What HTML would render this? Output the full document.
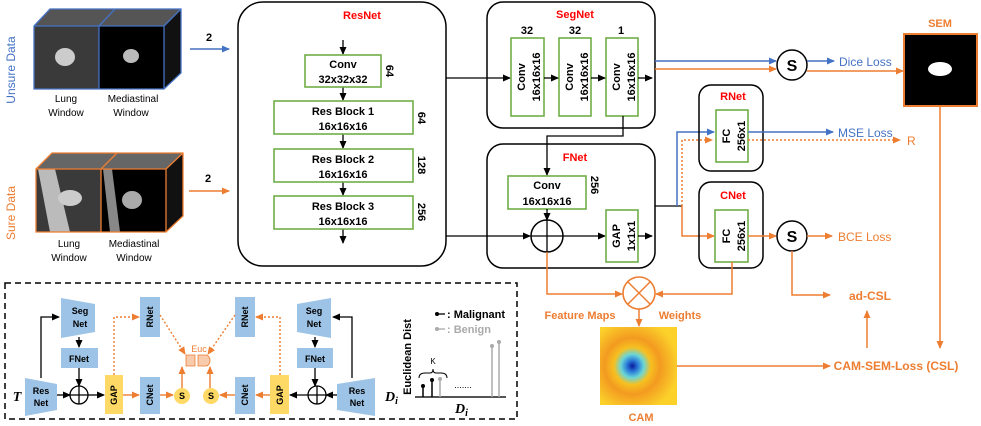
<!DOCTYPE html>
<html><head><meta charset="utf-8"><style>
html,body{margin:0;padding:0;background:#fff;}
svg{display:block;font-family:"Liberation Sans",sans-serif;font-weight:bold;}
</style></head><body>
<svg width="981" height="426" viewBox="0 0 981 426" xmlns="http://www.w3.org/2000/svg">
<defs>
<marker id="ak" markerWidth="8" markerHeight="8" refX="7" refY="4" orient="auto" markerUnits="userSpaceOnUse"><path d="M0,0.5 L8,4 L0,7.5z" fill="#000"/></marker>
<marker id="ab" markerWidth="8" markerHeight="8" refX="7" refY="4" orient="auto" markerUnits="userSpaceOnUse"><path d="M0,0.5 L8,4 L0,7.5z" fill="#4472c4"/></marker>
<marker id="ao" markerWidth="8" markerHeight="8" refX="7" refY="4" orient="auto" markerUnits="userSpaceOnUse"><path d="M0,0.5 L8,4 L0,7.5z" fill="#ed7d31"/></marker>
<radialGradient id="cam" cx="0.42" cy="0.5" r="0.6">
<stop offset="0" stop-color="#0a1a9a"/><stop offset="0.12" stop-color="#2a7ad8"/><stop offset="0.25" stop-color="#6ad6d6"/><stop offset="0.4" stop-color="#f7c020"/><stop offset="0.6" stop-color="#f39a20"/><stop offset="1" stop-color="#fbd12a"/></radialGradient>
</defs>

<!-- Input cubes -->
<text transform="translate(15,70) rotate(-90)" text-anchor="middle" font-size="12" fill="#4472c4" font-weight="normal">Unsure Data</text>
<g>
<polygon points="34,26 50,9 181,9 164,26" fill="#555"/>
<polygon points="164,26 181,9 181,73 164,89" fill="#111"/>
<rect x="34" y="26" width="65" height="63" fill="#3a3a3a"/>
<ellipse cx="65" cy="57" rx="10" ry="9" fill="#ccc"/>
<rect x="99" y="26" width="65" height="63" fill="#000"/>
<ellipse cx="131" cy="56" rx="8" ry="7" fill="#bbb"/>
<path d="M34,26 L50,9 L181,9 L181,73 L164,89 L34,89z M34,26 H164 V89 M164,26 L181,9 M99,26 V89 M99,26 L115,9" fill="none" stroke="#4472c4" stroke-width="1.3"/>
</g>
<text x="66" y="102" text-anchor="middle" font-size="10" font-weight="normal">Lung</text>
<text x="66" y="116" text-anchor="middle" font-size="10" font-weight="normal">Window</text>
<text x="133" y="102" text-anchor="middle" font-size="10" font-weight="normal">Mediastinal</text>
<text x="131" y="116" text-anchor="middle" font-size="10" font-weight="normal">Window</text>

<text transform="translate(15,213) rotate(-90)" text-anchor="middle" font-size="12" fill="#ed7d31" font-weight="normal">Sure Data</text>
<g>
<polygon points="36,169 52,153 183,153 166,169" fill="#666"/>
<polygon points="166,169 183,153 183,216 166,232" fill="#111"/>
<rect x="36" y="169" width="65" height="63" fill="#3a3a3a"/>
<polygon points="38,169 55,169 70,232 50,232" fill="#bbb"/>
<ellipse cx="70" cy="198" rx="12" ry="8" fill="#ccc"/>
<rect x="101" y="169" width="65" height="63" fill="#000"/>
<polygon points="103,169 112,169 120,232 110,232" fill="#888"/>
<ellipse cx="132" cy="200" rx="10" ry="9" fill="#aaa"/>
<path d="M36,169 L52,153 L183,153 L183,216 L166,232 L36,232z M36,169 H166 V232 M166,169 L183,153 M101,169 V232 M101,169 L117,153" fill="none" stroke="#ed7d31" stroke-width="1.3"/>
</g>
<text x="69" y="247" text-anchor="middle" font-size="10" font-weight="normal">Lung</text>
<text x="69" y="261" text-anchor="middle" font-size="10" font-weight="normal">Window</text>
<text x="134" y="247" text-anchor="middle" font-size="10" font-weight="normal">Mediastinal</text>
<text x="134" y="261" text-anchor="middle" font-size="10" font-weight="normal">Window</text>

<text x="209" y="41" text-anchor="middle" font-size="11">2</text>
<line x1="190" y1="49" x2="229" y2="49" stroke="#4472c4" stroke-width="1.5" marker-end="url(#ab)"/>
<text x="208" y="182" text-anchor="middle" font-size="11">2</text>
<line x1="189" y1="191" x2="229" y2="191" stroke="#ed7d31" stroke-width="1.5" marker-end="url(#ao)"/>

<!-- ResNet -->
<rect x="238" y="2" width="208" height="264" rx="25" fill="none" stroke="#000" stroke-width="1.5"/>
<text x="362" y="19" text-anchor="middle" font-size="11" fill="#ff0000">ResNet</text>
<g stroke="#000" stroke-width="1.3">
<line x1="343" y1="40" x2="343" y2="54" marker-end="url(#ak)"/>
<line x1="343" y1="87" x2="343" y2="100" marker-end="url(#ak)"/>
<line x1="343" y1="134" x2="343" y2="148" marker-end="url(#ak)"/>
<line x1="343" y1="182" x2="343" y2="195" marker-end="url(#ak)"/>
<line x1="343" y1="229" x2="343" y2="243" marker-end="url(#ak)"/>
</g>
<g fill="#fff" stroke="#70ad47" stroke-width="1.6">
<rect x="305" y="55" width="76" height="32"/>
<rect x="274" y="101" width="139" height="33"/>
<rect x="274" y="149" width="139" height="33"/>
<rect x="274" y="196" width="139" height="33"/>
</g>
<g font-size="11" text-anchor="middle">
<text x="343" y="68">Conv</text><text x="343" y="83">32x32x32</text>
<text x="343" y="115">Res Block 1</text><text x="343" y="130">16x16x16</text>
<text x="343" y="163">Res Block 2</text><text x="343" y="178">16x16x16</text>
<text x="343" y="210">Res Block 3</text><text x="343" y="225">16x16x16</text>
<text transform="translate(386,71) rotate(90)">64</text>
<text transform="translate(418,118) rotate(90)">64</text>
<text transform="translate(418,165) rotate(90)">128</text>
<text transform="translate(418,212) rotate(90)">256</text>
</g>
<line x1="446" y1="78" x2="510" y2="78" stroke="#000" stroke-width="1.3" marker-end="url(#ak)"/>
<line x1="446" y1="236" x2="530" y2="236" stroke="#000" stroke-width="1.3" marker-end="url(#ak)"/>

<!-- SegNet -->
<rect x="487" y="2" width="168" height="126" rx="16" fill="none" stroke="#000" stroke-width="1.5"/>
<text x="575" y="18" text-anchor="middle" font-size="11" fill="#ff0000">SegNet</text>
<g font-size="11" text-anchor="middle"><text x="527" y="34">32</text><text x="575" y="34">32</text><text x="621" y="34">1</text></g>
<g fill="#fff" stroke="#70ad47" stroke-width="1.6">
<rect x="511" y="38" width="33" height="78"/><rect x="559" y="38" width="32" height="78"/><rect x="606" y="38" width="32" height="78"/>
</g>
<g font-size="11" text-anchor="middle">
<text transform="translate(527,77) rotate(-90)"><tspan x="0" dy="-2">Conv</tspan><tspan x="0" dy="15">16x16x16</tspan></text>
<text transform="translate(575,77) rotate(-90)"><tspan x="0" dy="-2">Conv</tspan><tspan x="0" dy="15">16x16x16</tspan></text>
<text transform="translate(622,77) rotate(-90)"><tspan x="0" dy="-2">Conv</tspan><tspan x="0" dy="15">16x16x16</tspan></text>
</g>
<g stroke="#000" stroke-width="1.3">
<line x1="544" y1="78" x2="558" y2="78" marker-end="url(#ak)"/>
<line x1="591" y1="78" x2="605" y2="78" marker-end="url(#ak)"/>
<line x1="638" y1="78" x2="652" y2="78" marker-end="url(#ak)"/>
<polyline points="623,116 623,136 547,136 547,175" fill="none" marker-end="url(#ak)"/>
</g>
<line x1="655" y1="61" x2="776" y2="61" stroke="#4472c4" stroke-width="1.5" marker-end="url(#ab)"/>
<line x1="655" y1="69" x2="776" y2="69" stroke="#ed7d31" stroke-width="1.5" marker-end="url(#ao)"/>
<circle cx="792" cy="65" r="15" fill="#fff" stroke="#000" stroke-width="1.5"/>
<text x="792" y="71" text-anchor="middle" font-size="16">S</text>
<line x1="807" y1="61" x2="834" y2="61" stroke="#4472c4" stroke-width="1.5" marker-end="url(#ab)"/>
<text x="839" y="66" font-size="12" fill="#4472c4" font-weight="normal">Dice Loss</text>
<line x1="807" y1="71" x2="903" y2="71" stroke="#ed7d31" stroke-width="1.5" marker-end="url(#ao)"/>
<text x="940" y="27" text-anchor="middle" font-size="11" fill="#ed7d31">SEM</text>
<rect x="904" y="34" width="73" height="72" fill="#000" stroke="#ed7d31" stroke-width="2"/>
<ellipse cx="940" cy="69" rx="12" ry="7" fill="#fff"/>

<!-- FNet -->
<rect x="487" y="144" width="168" height="124" rx="16" fill="none" stroke="#000" stroke-width="1.5"/>
<text x="575" y="161" text-anchor="middle" font-size="11" fill="#ff0000">FNet</text>
<rect x="508" y="176" width="78" height="33" fill="#fff" stroke="#70ad47" stroke-width="1.6"/>
<text x="547" y="189" text-anchor="middle" font-size="11">Conv</text><text x="547" y="205" text-anchor="middle" font-size="11">16x16x16</text>
<text transform="translate(591,185) rotate(90)" text-anchor="middle" font-size="11">256</text>
<line x1="547" y1="209" x2="547" y2="220" stroke="#000" stroke-width="1.3" marker-end="url(#ak)"/>
<circle cx="547" cy="236" r="16" fill="#fff" stroke="#000" stroke-width="1.5"/>
<line x1="531" y1="236" x2="563" y2="236" stroke="#000" stroke-width="1.3"/><line x1="547" y1="220" x2="547" y2="252" stroke="#000" stroke-width="1.3"/>
<line x1="563" y1="236" x2="605" y2="236" stroke="#000" stroke-width="1.3" marker-end="url(#ak)"/>
<rect x="606" y="210" width="32" height="52" fill="#fff" stroke="#70ad47" stroke-width="1.6"/>
<text transform="translate(622,236) rotate(-90)" text-anchor="middle" font-size="11"><tspan x="0" dy="-2">GAP</tspan><tspan x="0" dy="15">1x1x1</tspan></text>
<line x1="638" y1="236" x2="652" y2="236" stroke="#000" stroke-width="1.3" marker-end="url(#ak)"/>
<line x1="655" y1="206" x2="682" y2="206" stroke="#000" stroke-width="1.3"/>
<polyline points="677,206 677,132 714,132" fill="none" stroke="#4472c4" stroke-width="1.5" marker-end="url(#ab)"/>
<polyline points="682,206 682,140 712,140" fill="none" stroke="#ed7d31" stroke-width="1.5" stroke-dasharray="2,2" marker-end="url(#ao)"/>
<polyline points="682,206 682,236 714,236" fill="none" stroke="#ed7d31" stroke-width="1.5" marker-end="url(#ao)"/>

<!-- RNet/CNet -->
<rect x="699" y="85" width="64" height="86" rx="12" fill="none" stroke="#000" stroke-width="1.5"/>
<text x="733" y="100" text-anchor="middle" font-size="11" fill="#ff0000">RNet</text>
<rect x="716" y="110" width="32" height="52" fill="#fff" stroke="#70ad47" stroke-width="1.6"/>
<text transform="translate(732,136) rotate(-90)" text-anchor="middle" font-size="11"><tspan x="0" dy="-2">FC</tspan><tspan x="0" dy="15">256x1</tspan></text>
<rect x="699" y="182" width="64" height="86" rx="12" fill="none" stroke="#000" stroke-width="1.5"/>
<text x="733" y="199" text-anchor="middle" font-size="11" fill="#ff0000">CNet</text>
<rect x="715" y="210" width="33" height="52" fill="#fff" stroke="#70ad47" stroke-width="1.6"/>
<text transform="translate(732,236) rotate(-90)" text-anchor="middle" font-size="11"><tspan x="0" dy="-2">FC</tspan><tspan x="0" dy="15">256x1</tspan></text>
<line x1="748" y1="132" x2="833" y2="132" stroke="#4472c4" stroke-width="1.5" marker-end="url(#ab)"/>
<text x="838" y="137" font-size="12" fill="#4472c4" font-weight="normal">MSE Loss</text>
<line x1="748" y1="140" x2="900" y2="140" stroke="#ed7d31" stroke-width="1.5" stroke-dasharray="2,2" marker-end="url(#ao)"/>
<text x="907" y="145" font-size="12" fill="#ed7d31" font-weight="normal">R</text>
<line x1="748" y1="236" x2="776" y2="236" stroke="#ed7d31" stroke-width="1.5" marker-end="url(#ao)"/>
<circle cx="792" cy="236" r="15" fill="#fff" stroke="#000" stroke-width="1.5"/>
<text x="792" y="242" text-anchor="middle" font-size="16">S</text>
<line x1="807" y1="236" x2="832" y2="236" stroke="#ed7d31" stroke-width="1.5" marker-end="url(#ao)"/>
<text x="838" y="241" font-size="12" fill="#ed7d31" font-weight="normal">BCE Loss</text>

<!-- lower right -->
<g stroke="#ed7d31" stroke-width="1.5" fill="none">
<polyline points="547,252 547,294 622,294" marker-end="url(#ao)"/>
<polyline points="732,262 732,294 656,294" marker-end="url(#ao)"/>
<polyline points="792,251 792,295 830,295" marker-end="url(#ao)"/>
<line x1="940" y1="106" x2="940" y2="348" marker-end="url(#ao)"/>
<line x1="867" y1="348" x2="867" y2="311" marker-end="url(#ao)"/>
<line x1="677" y1="366" x2="830" y2="366" marker-end="url(#ao)"/>
<line x1="639" y1="309" x2="639" y2="326" marker-end="url(#ao)"/>
<circle cx="639" cy="293" r="16" stroke-width="1.6"/>
<line x1="628" y1="282" x2="650" y2="304"/><line x1="650" y1="282" x2="628" y2="304"/>
</g>
<text x="580" y="319" text-anchor="middle" font-size="11" fill="#ed7d31">Feature Maps</text>
<text x="680" y="319" text-anchor="middle" font-size="11" fill="#ed7d31">Weights</text>
<rect x="600" y="327" width="77" height="78" fill="url(#cam)"/>
<text x="641" y="421" text-anchor="middle" font-size="11" fill="#ed7d31">CAM</text>
<text x="870" y="300" text-anchor="middle" font-size="12" fill="#ed7d31">ad-CSL</text>
<text x="896" y="370" text-anchor="middle" font-size="12" fill="#ed7d31">CAM-SEM-Loss (CSL)</text>

<!-- dashed panel -->
<rect x="5" y="283" width="512" height="136" fill="none" stroke="#000" stroke-width="1.5" stroke-dasharray="6,4"/>
<g fill="#9dc3e6">
<polygon points="25,378 57,384 57,410 25,416"/>
<polygon points="61,298 95,304 95,332 61,338"/>
<rect x="61" y="348" width="37" height="20"/>
<rect x="140" y="297" width="20" height="40"/>
<rect x="140" y="377" width="20" height="37"/>
<rect x="235" y="297" width="20" height="40"/>
<rect x="235" y="377" width="20" height="37"/>
<polygon points="297,304 331,298 331,338 297,332"/>
<rect x="297" y="348" width="36" height="20"/>
<polygon points="337,384 375,378 375,416 337,410"/>
</g>
<g fill="#ffd966"><rect x="105" y="375" width="18" height="39"/><rect x="270" y="375" width="19" height="39"/><circle cx="182" cy="396" r="8"/><circle cx="211" cy="396" r="8"/></g>
<path d="M186,355 h9 v11 h-9z M198,355 h8 a4,5.5 0 0 1 0,11 h-8z" fill="#f8cbad" stroke="#ed7d31" stroke-width="0.8"/>
<g font-size="9" text-anchor="middle">
<text x="41" y="394">Res</text><text x="41" y="406">Net</text>
<text x="80" y="314">Seg</text><text x="80" y="327">Net</text>
<text x="79" y="362">FNet</text>
<text x="314" y="314">Seg</text><text x="314" y="327">Net</text>
<text x="315" y="362">FNet</text>
<text x="357" y="394">Res</text><text x="357" y="406">Net</text>
<text transform="translate(153,317) rotate(-90)">RNet</text>
<text transform="translate(153,395) rotate(-90)">CNet</text>
<text transform="translate(248,317) rotate(-90)">RNet</text>
<text transform="translate(248,395) rotate(-90)">CNet</text>
<text transform="translate(117,395) rotate(-90)">GAP</text>
<text transform="translate(283,395) rotate(-90)">GAP</text>
<text x="182" y="399">S</text><text x="211" y="399">S</text>
<text x="199" y="352" fill="#ed7d31" font-weight="normal">Euc</text>
</g>
<text x="17" y="401" text-anchor="middle" font-size="14" font-family="Liberation Serif" font-style="italic">T</text>
<text x="385" y="401" font-size="14" font-family="Liberation Serif" font-style="italic">D<tspan font-size="10" dy="3">i</tspan></text>
<g stroke="#000" stroke-width="1.3" fill="none">
<polyline points="41,378 41,317 59,317" marker-end="url(#ak)"/>
<line x1="79" y1="337" x2="79" y2="347" marker-end="url(#ak)"/>
<line x1="79" y1="368" x2="79" y2="386" marker-end="url(#ak)"/>
<line x1="57" y1="395" x2="70" y2="395" marker-end="url(#ak)"/>
<circle cx="79" cy="395" r="9"/><line x1="70" y1="395" x2="88" y2="395"/><line x1="79" y1="386" x2="79" y2="404"/>
<line x1="88" y1="395" x2="104" y2="395" marker-end="url(#ak)"/>
<polyline points="352,378 352,317 333,317" marker-end="url(#ak)"/>
<line x1="315" y1="337" x2="315" y2="347" marker-end="url(#ak)"/>
<line x1="315" y1="368" x2="315" y2="386" marker-end="url(#ak)"/>
<line x1="337" y1="395" x2="326" y2="395" marker-end="url(#ak)"/>
<circle cx="317" cy="395" r="9"/><line x1="308" y1="395" x2="326" y2="395"/><line x1="317" y1="386" x2="317" y2="404"/>
<line x1="308" y1="395" x2="290" y2="395" marker-end="url(#ak)"/>
</g>
<g stroke="#ed7d31" stroke-width="1.4" fill="none">
<line x1="123" y1="395" x2="139" y2="395" marker-end="url(#ao)"/>
<line x1="160" y1="395" x2="173" y2="395" marker-end="url(#ao)"/>
<line x1="270" y1="395" x2="256" y2="395" marker-end="url(#ao)"/>
<line x1="235" y1="395" x2="220" y2="395" marker-end="url(#ao)"/>
<line x1="182" y1="388" x2="182" y2="367" marker-end="url(#ao)"/>
<line x1="210" y1="388" x2="210" y2="367" marker-end="url(#ao)"/>
<g stroke-dasharray="2,2">
<polyline points="114,375 114,317 139,317" marker-end="url(#ao)"/>
<polyline points="280,375 280,317 256,317" marker-end="url(#ao)"/>
<line x1="160" y1="315" x2="185" y2="354" marker-end="url(#ao)"/>
<line x1="235" y1="315" x2="208" y2="354" marker-end="url(#ao)"/>
</g>
</g>
<!-- legend plot -->
<text transform="translate(411,357) rotate(-90)" text-anchor="middle" font-size="11">Euclidean Dist</text>
<line x1="437" y1="314" x2="445" y2="314" stroke="#000" stroke-width="1.3"/><circle cx="437" cy="314" r="2" fill="#000"/>
<text x="447" y="318" font-size="11">: Malignant</text>
<line x1="437" y1="329" x2="445" y2="329" stroke="#aaa" stroke-width="1.3"/><circle cx="437" cy="329" r="2" fill="#aaa"/>
<text x="447" y="333" font-size="11" fill="#aaa">: Benign</text>
<line x1="415" y1="397" x2="506" y2="397" stroke="#555" stroke-width="2"/>
<g stroke-width="1.5">
<line x1="423" y1="397" x2="423" y2="386" stroke="#000"/><circle cx="423" cy="386" r="2" fill="#000"/>
<line x1="432" y1="397" x2="432" y2="380" stroke="#000"/><circle cx="432" cy="380" r="2" fill="#000"/>
<line x1="440" y1="397" x2="440" y2="379" stroke="#aaa"/><circle cx="440" cy="379" r="2" fill="#aaa"/>
<line x1="492" y1="397" x2="492" y2="346" stroke="#aaa"/><circle cx="492" cy="346" r="2" fill="#aaa"/>
<line x1="499" y1="397" x2="499" y2="342" stroke="#aaa"/><circle cx="499" cy="342" r="2" fill="#aaa"/>
</g>
<path d="M419,378 q0,-5 6,-5 h5 q3,0 3,-4 q0,4 3,4 h5 q6,0 6,5" fill="none" stroke="#000" stroke-width="1"/>
<text x="433" y="364" text-anchor="middle" font-size="8" font-weight="normal">K</text>
<text x="463" y="388" text-anchor="middle" font-size="9" font-weight="normal">.......</text>
<text x="455" y="413" font-size="14" font-family="Liberation Serif" font-style="italic">D<tspan font-size="10" dy="3">i</tspan></text>
</svg>
</body></html>
